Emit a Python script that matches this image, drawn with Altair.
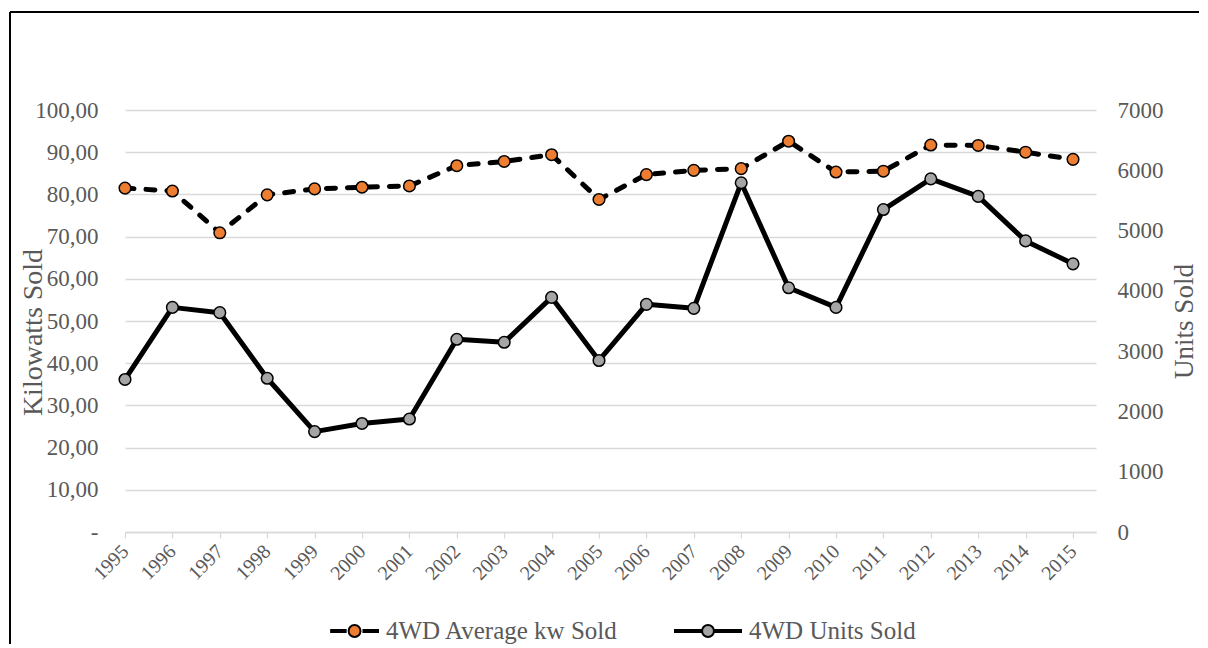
import altair as alt
import pandas as pd

# ---- data ----
years = [1995, 1996, 1997, 1998, 1999, 2000, 2001, 2002, 2003, 2004, 2005,
         2006, 2007, 2008, 2009, 2010, 2011, 2012, 2013, 2014, 2015]
kw_sold = [81.5, 80.8, 70.9, 79.9, 81.3, 81.7, 82.0, 86.8, 87.8, 89.4, 78.8,
           84.7, 85.7, 86.1, 92.6, 85.3, 85.5, 91.7, 91.6, 90.0, 88.3]
units_sold = [2530, 3726, 3638, 2550, 1665, 1800, 1874, 3197, 3147, 3891, 2845,
              3776, 3710, 5793, 4051, 3726, 5349, 5857, 5567, 4829, 4448]
series_names = ["4WD Average kw Sold", "4WD Units Sold"]
series_fill = ["#ED7D31", "#A5A5A5"]
kw_ticks = [0, 10, 20, 30, 40, 50, 60, 70, 80, 90, 100]
unit_ticks = [0, 1000, 2000, 3000, 4000, 5000, 6000, 7000]

df = pd.DataFrame({"year": years, "kw": kw_sold, "units": units_sold})

FONT = "Liberation Serif"
GREY = "#595959"
GRID = "#D9D9D9"
W, H = 971, 422
PAD_L, PAD_T, PAD_R, PAD_B = 117, 102, 103, 112

# ---- legend symbols (custom paths in the -1..1 box) ----
def bar(a, b):
    return f"M{a},-0.03L{b},-0.03L{b},0.03L{a},0.03Z"

def circ(cx, r):
    return f"M{cx + r},0A{r},{r},0,1,1,{cx - r},0A{r},{r},0,1,1,{cx + r},0Z"

path_dashed = bar(-0.42, 0.02) + bar(0.56, 1) + circ(0.29, 0.18)
path_solid = bar(-1, -0.18) + bar(0.18, 1) + circ(0, 0.18)

x_enc = alt.X(
    "year:Q",
    scale=alt.Scale(domain=[1995, 2015.485], nice=False, zero=False),
    axis=alt.Axis(
        values=years, format="d", title=None, grid=False,
        labelAngle=315, labelAlign="right", labelBaseline="middle",
        labelFontSize=20, labelPadding=10, labelOverlap=False,
        domainColor=GRID, domainWidth=1.3, tickColor=GRID, tickWidth=1.3, tickSize=6,
    ),
)

kw_axis = alt.Axis(
    orient="left", values=kw_ticks, grid=True, gridColor=GRID, gridWidth=1.3,
    domain=False, ticks=False, labelPadding=27, labelFontSize=23,
    labelExpr="datum.value == 0 ? '-\u00a0\u00a0' : replace(format(datum.value, '.2f'), '.', ',')",
    title="Kilowatts Sold", titleFontSize=28, titleAngle=270,
    titleX=-92, titleY=222, titleAlign="center", titleBaseline="middle",
)
unit_axis = alt.Axis(
    orient="right", values=unit_ticks, grid=False, format="d",
    domain=False, ticks=False, labelPadding=21, labelFontSize=23,
    title="Units Sold", titleFontSize=27, titleAngle=270,
    titleX=88, titleY=211, titleAlign="center", titleBaseline="middle",
)

kw_y = alt.Y("kw:Q", scale=alt.Scale(domain=[0, 100], nice=False), axis=kw_axis)
unit_y = alt.Y("units:Q", scale=alt.Scale(domain=[0, 7000], nice=False), axis=unit_axis)

base = alt.Chart(df)

units_layer = alt.layer(
    base.mark_line(color="black", strokeWidth=5, strokeJoin="round", strokeCap="round")
        .encode(x=x_enc, y=unit_y),
    base.mark_point(filled=True, shape="circle", fill=series_fill[1], stroke="black",
                    strokeWidth=1.5, size=135, opacity=1)
        .encode(x=x_enc, y=unit_y),
)

kw_layer = alt.layer(
    base.mark_line(color="black", strokeWidth=5, strokeDash=[9, 12],
                   strokeJoin="round", strokeCap="round")
        .encode(x=x_enc, y=kw_y),
    base.mark_point(filled=True, shape="circle", fill=series_fill[0], stroke="black",
                    strokeWidth=1.5, size=135, opacity=1)
        .encode(x=x_enc, y=kw_y),
)

leg = alt.Legend(
    title=None, orient="none", legendX=186, legendY=487, direction="horizontal",
    columns=2, symbolSize=4356, symbolStrokeWidth=2, symbolStrokeColor="black",
    labelFontSize=25, labelFont=FONT, labelColor=GREY, labelOffset=7,
    labelLimit=400, columnPadding=52,
)

legend_layer = (
    alt.Chart(pd.DataFrame({"series": series_names}))
    .transform_filter("false")
    .mark_point(filled=True, strokeWidth=2, opacity=1)
    .encode(
        fill=alt.Fill("series:N", scale=alt.Scale(domain=series_names, range=series_fill), legend=leg),
        shape=alt.Shape("series:N", scale=alt.Scale(domain=series_names, range=[path_dashed, path_solid]), legend=leg),
        stroke=alt.Stroke("series:N", scale=alt.Scale(domain=series_names, range=["black", "black"]), legend=leg),
    )
)

# outer frame of the chart (top and left edges visible in the reference)
frame = alt.Chart(alt.Data(values=[{}]))
frame_top = frame.mark_rule(color="black", strokeWidth=2).encode(
    x=alt.value(-PAD_L + 2), x2=alt.value(W + PAD_R), y=alt.value(-PAD_T + 4)
)
frame_left = frame.mark_rule(color="black", strokeWidth=2).encode(
    x=alt.value(-PAD_L + 2), y=alt.value(-PAD_T + 4), y2=alt.value(H + PAD_B)
)

chart = (
    alt.layer(units_layer, kw_layer, legend_layer, frame_top, frame_left)
    .resolve_scale(y="independent")
    .properties(
        width=W, height=H,
        padding={"left": PAD_L, "top": PAD_T, "right": PAD_R, "bottom": PAD_B},
        autosize=alt.AutoSizeParams(type="none"),
    )
    .configure_view(strokeWidth=0)
    .configure_axis(labelFont=FONT, titleFont=FONT, labelColor=GREY, titleColor=GREY,
                    titleFontWeight="normal")
)

chart.save("out.html", embed_options={"renderer": "svg", "actions": False})
